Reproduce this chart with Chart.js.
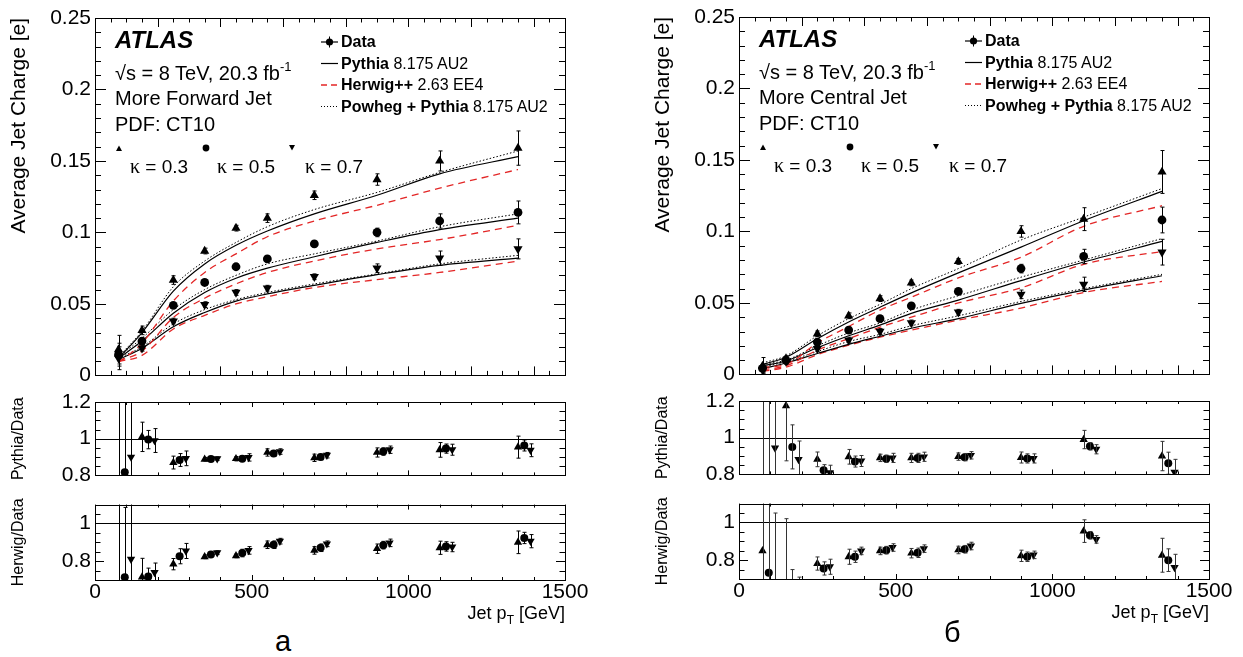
<!DOCTYPE html>
<html>
<head>
<meta charset="utf-8">
<title>Average Jet Charge</title>
<script src="https://cdn.jsdelivr.net/npm/chart.js@4.4.1/dist/chart.umd.min.js"></script>
<style>
  body { margin: 0; background: #fff; }
  #page { position: relative; width: 1243px; height: 657px; overflow: hidden;
          font-family: "Liberation Sans", Arial, sans-serif; color: #000; }
  #page canvas { position: absolute; }
  .txt { position: absolute; white-space: nowrap; line-height: 1; }
  .atlas { font-size: 24px; font-weight: bold; font-style: italic; }
  .big { font-size: 20px; }
  .kap { font-size: 19px; }
  .kap i { font-family: "Liberation Serif", serif; font-style: normal; font-size: 20px; }
  .leg { font-size: 16px; }
  .glyphs { position: absolute; pointer-events: none; }
  .axt { font-size: 18px; }
  .letter { font-size: 29px; }
</style>
</head>
<body>
<div id="page">
  <canvas id="mainL" width="590" height="392" style="left:0px;top:0px"></canvas>
  <canvas id="pyL" width="590" height="110" style="left:0px;top:382px"></canvas>
  <canvas id="hwL" width="590" height="132" style="left:0px;top:488px"></canvas>
  <canvas id="mainR" width="590" height="392" style="left:644px;top:-1px"></canvas>
  <canvas id="pyR" width="590" height="110" style="left:644px;top:381px"></canvas>
  <canvas id="hwR" width="590" height="132" style="left:644px;top:487px"></canvas>
</div>
<script>
// bin centres [GeV] and shifted positions used in the ratio panels
const binCenters = [75, 150, 250, 350, 450, 550, 700, 900, 1100, 1350];
const ratioX05 = [95, 170, 270, 370, 470, 570, 720, 920, 1120, 1370];
const ratioX07 = [115, 190, 290, 390, 490, 590, 740, 940, 1140, 1390];

// --- More Forward Jet (a) ---
const fwdData03 = [0.018, 0.0315, 0.0667, 0.087, 0.103, 0.110, 0.126, 0.137, 0.150, 0.159];
const fwdErr03  = [0.010, 0.003, 0.003, 0.002, 0.002, 0.003, 0.003, 0.004, 0.007, 0.012];
const fwdData05 = [0.0145, 0.024, 0.049, 0.065, 0.076, 0.0815, 0.092, 0.100, 0.108, 0.114];
const fwdErr05  = [0.008, 0.002, 0.002, 0.002, 0.002, 0.002, 0.002, 0.003, 0.005, 0.008];
const fwdData07 = [0.012, 0.019, 0.038, 0.0495, 0.058, 0.061, 0.069, 0.075, 0.082, 0.0885];
const fwdErr07  = [0.008, 0.002, 0.002, 0.002, 0.002, 0.002, 0.002, 0.003, 0.005, 0.007];

const fwdPythia03 = [0.012, 0.030, 0.059, 0.078, 0.091, 0.101, 0.113, 0.126, 0.141, 0.153];
const fwdHerwig03 = [0.009, 0.0225, 0.052, 0.072, 0.085, 0.097, 0.108, 0.119, 0.131, 0.144];
const fwdPowheg03 = [0.013, 0.031, 0.062, 0.080, 0.093, 0.104, 0.116, 0.128, 0.142, 0.157];
const fwdPythia05 = [0.012, 0.024, 0.0435, 0.058, 0.068, 0.075, 0.083, 0.093, 0.102, 0.110];
const fwdHerwig05 = [0.010, 0.017, 0.0405, 0.054, 0.064, 0.072, 0.080, 0.0885, 0.095, 0.105];
const fwdPowheg05 = [0.013, 0.026, 0.046, 0.060, 0.070, 0.078, 0.085, 0.094, 0.104, 0.113];
const fwdPythia07 = [0.011, 0.019, 0.034, 0.044, 0.052, 0.057, 0.063, 0.0705, 0.077, 0.082];
const fwdHerwig07 = [0.0097, 0.014, 0.0325, 0.042, 0.050, 0.055, 0.0615, 0.067, 0.072, 0.080];
const fwdPowheg07 = [0.012, 0.020, 0.036, 0.046, 0.053, 0.058, 0.064, 0.071, 0.078, 0.084];

const fwdPyRatio03 = [0.5, 1.01, 0.87, 0.888, 0.891, 0.925, 0.896, 0.925, 0.939, 0.954];
const fwdPyRErr03  = [0.8, 0.08, 0.035, 0.01, 0.012, 0.02, 0.02, 0.025, 0.04, 0.06];
const fwdPyRatio05 = [0.817, 0.995, 0.884, 0.889, 0.891, 0.919, 0.90, 0.93, 0.946, 0.963];
const fwdPyRErr05  = [0.5, 0.05, 0.035, 0.01, 0.015, 0.015, 0.015, 0.02, 0.025, 0.03];
const fwdPyRatio07 = [0.90, 0.99, 0.893, 0.891, 0.898, 0.93, 0.91, 0.94, 0.94, 0.937];
const fwdPyRErr07  = [0.5, 0.065, 0.04, 0.01, 0.02, 0.015, 0.015, 0.02, 0.03, 0.035];

const fwdHwRatio03 = [0.5, 0.715, 0.784, 0.823, 0.828, 0.887, 0.857, 0.866, 0.871, 0.90];
const fwdHwRErr03  = [0.8, 0.1, 0.03, 0.01, 0.01, 0.02, 0.02, 0.025, 0.035, 0.06];
const fwdHwRatio05 = [0.715, 0.718, 0.826, 0.835, 0.843, 0.887, 0.871, 0.885, 0.878, 0.923];
const fwdHwRErr05  = [0.37, 0.045, 0.04, 0.01, 0.02, 0.02, 0.02, 0.02, 0.025, 0.03];
const fwdHwRatio07 = [0.81, 0.74, 0.854, 0.845, 0.857, 0.906, 0.892, 0.897, 0.875, 0.906];
const fwdHwRErr07  = [0.5, 0.05, 0.04, 0.01, 0.02, 0.015, 0.015, 0.02, 0.025, 0.035];

// --- More Central Jet (б) ---
const cenData03 = [0.0058, 0.011, 0.0284, 0.041, 0.053, 0.064, 0.079, 0.100, 0.1086, 0.1416];
const cenErr03  = [0.006, 0.002, 0.002, 0.002, 0.002, 0.002, 0.002, 0.004, 0.008, 0.015];
const cenData05 = [0.0042, 0.0099, 0.0226, 0.031, 0.039, 0.048, 0.058, 0.074, 0.0825, 0.108];
const cenErr05  = [0.003, 0.002, 0.002, 0.002, 0.002, 0.002, 0.002, 0.003, 0.005, 0.009];
const cenData07 = [0.0035, 0.009, 0.018, 0.024, 0.030, 0.036, 0.0435, 0.056, 0.063, 0.0855];
const cenErr07  = [0.003, 0.002, 0.002, 0.002, 0.002, 0.002, 0.002, 0.003, 0.005, 0.009];

const cenPythia03 = [0.007, 0.012, 0.025, 0.0367, 0.047, 0.057, 0.071, 0.089, 0.1075, 0.128];
const cenHerwig03 = [0.005, 0.007, 0.022, 0.0335, 0.045, 0.054, 0.0675, 0.082, 0.1036, 0.118];
const cenPowheg03 = [0.008, 0.013, 0.027, 0.039, 0.049, 0.060, 0.074, 0.094, 0.110, 0.130];
const cenPythia05 = [0.006, 0.0094, 0.0186, 0.027, 0.0345, 0.0427, 0.052, 0.0656, 0.0786, 0.093];
const cenHerwig05 = [0.0031, 0.006, 0.017, 0.025, 0.033, 0.040, 0.050, 0.0605, 0.077, 0.086];
const cenPowheg05 = [0.007, 0.010, 0.020, 0.029, 0.036, 0.045, 0.055, 0.068, 0.080, 0.095];
const cenPythia07 = [0.004, 0.008, 0.0146, 0.021, 0.0267, 0.0323, 0.039, 0.0497, 0.059, 0.069];
const cenHerwig07 = [0.002, 0.005, 0.0138, 0.0204, 0.026, 0.031, 0.038, 0.0464, 0.0573, 0.065];
const cenPowheg07 = [0.005, 0.009, 0.016, 0.023, 0.028, 0.034, 0.041, 0.051, 0.060, 0.070];

const cenPyRatio03 = [0.5, 1.174, 0.882, 0.896, 0.89, 0.89, 0.897, 0.892, 0.99, 0.90];
const cenPyRErr03  = [0.8, 0.3, 0.04, 0.04, 0.02, 0.025, 0.02, 0.03, 0.05, 0.08];
const cenPyRatio05 = [0.5, 0.95, 0.823, 0.87, 0.885, 0.89, 0.894, 0.887, 0.953, 0.861];
const cenPyRErr05  = [0.8, 0.12, 0.03, 0.03, 0.02, 0.025, 0.02, 0.025, 0.02, 0.06];
const cenPyRatio07 = [0.944, 0.882, 0.81, 0.873, 0.89, 0.896, 0.904, 0.887, 0.937, 0.812];
const cenPyRErr07  = [0.5, 0.1, 0.04, 0.03, 0.025, 0.025, 0.02, 0.025, 0.025, 0.07];

const cenHwRatio03 = [0.849, 0.55, 0.782, 0.818, 0.849, 0.837, 0.854, 0.823, 0.954, 0.826];
const cenHwRErr03  = [0.5, 0.47, 0.035, 0.04, 0.02, 0.025, 0.02, 0.03, 0.06, 0.09];
const cenHwRatio05 = [0.733, 0.55, 0.756, 0.818, 0.853, 0.839, 0.858, 0.818, 0.932, 0.80];
const cenHwRErr05  = [0.5, 0.2, 0.035, 0.03, 0.02, 0.025, 0.02, 0.025, 0.02, 0.06];
const cenHwRatio07 = [0.60, 0.60, 0.765, 0.849, 0.867, 0.861, 0.875, 0.828, 0.91, 0.761];
const cenHwRErr07  = [0.45, 0.11, 0.04, 0.02, 0.02, 0.02, 0.02, 0.02, 0.02, 0.07];

Chart.defaults.font.family = '"Liberation Sans", Arial, sans-serif';
Chart.defaults.color = '#000';

const HERWIG_RED = '#e32626';
const markers = [
  { pointStyle: 'triangle', pointRadius: 5.3, pointRotation: 0 },
  { pointStyle: 'circle', pointRadius: 4.4, pointRotation: 0 },
  { pointStyle: 'triangle', pointRadius: 5.3, pointRotation: 180 }
];

function pts(xs, ys) {
  return xs.map((x, i) => ({ x: x, y: ys[i] }));
}

function isMajor(v, step) {
  return Math.abs(v / step - Math.round(v / step)) < 1e-6;
}

function tickValues(min, max, step) {
  const out = [];
  for (let k = Math.ceil(min / step - 1e-9); k <= Math.floor(max / step + 1e-9); k++) out.push(k * step);
  return out;
}

// ROOT-like frame: inner ticks on all four sides, error bars, unity line
const rootStyle = {
  id: 'rootStyle',
  afterDatasetsDraw(chart, args, opts) {
    const { ctx, chartArea: a } = chart;
    const xs = chart.scales.x, ys = chart.scales.y;
    ctx.save();
    ctx.beginPath();
    ctx.rect(a.left, a.top, a.right - a.left, a.bottom - a.top);
    ctx.clip();
    if (opts.unity) {
      const py = Math.round(ys.getPixelForValue(1)) + 0.5;
      ctx.strokeStyle = '#000';
      ctx.lineWidth = 1;
      ctx.beginPath();
      ctx.moveTo(a.left, py);
      ctx.lineTo(a.right, py);
      ctx.stroke();
    }
    chart.data.datasets.forEach(ds => {
      if (!ds.errorBars) return;
      ctx.strokeStyle = ds.errorColor || '#000';
      ctx.lineWidth = 1;
      ds.data.forEach((p, j) => {
        const e = ds.errorBars[j];
        const px = Math.round(xs.getPixelForValue(p.x)) + 0.5;
        const yHi = ys.getPixelForValue(p.y + e);
        const yLo = ys.getPixelForValue(p.y - e);
        ctx.beginPath();
        ctx.moveTo(px, yHi); ctx.lineTo(px, yLo);
        ctx.moveTo(px - 2, yHi); ctx.lineTo(px + 2, yHi);
        ctx.moveTo(px - 2, yLo); ctx.lineTo(px + 2, yLo);
        ctx.stroke();
      });
    });
    ctx.restore();
  },
  afterDraw(chart, args, opts) {
    const { ctx, chartArea: a } = chart;
    const xs = chart.scales.x, ys = chart.scales.y;
    ctx.save();
    ctx.strokeStyle = '#000';
    ctx.lineWidth = 1;
    ctx.beginPath();
    tickValues(xs.min, xs.max, opts.xMinor).forEach(v => {
      const len = isMajor(v, opts.xMajor) ? opts.xMajorLen : opts.xMinorLen;
      const px = Math.round(xs.getPixelForValue(v)) + 0.5;
      ctx.moveTo(px, a.bottom); ctx.lineTo(px, a.bottom - len);
      ctx.moveTo(px, a.top); ctx.lineTo(px, a.top + len);
    });
    tickValues(ys.min, ys.max, opts.yMinor).forEach(v => {
      const len = isMajor(v, opts.yMajor) ? opts.yMajorLen : opts.yMinorLen;
      const py = Math.round(ys.getPixelForValue(v)) + 0.5;
      ctx.moveTo(a.left, py); ctx.lineTo(a.left + len, py);
      ctx.moveTo(a.right, py); ctx.lineTo(a.right - len, py);
    });
    ctx.stroke();
    ctx.strokeRect(Math.round(a.left) + 0.5, Math.round(a.top) + 0.5,
                   Math.round(a.right - a.left), Math.round(a.bottom - a.top));
    ctx.restore();
  }
};

function yTitle(text, size, align, pad) {
  return { display: true, text: text, align: align, font: { size: size }, color: '#000',
           padding: { top: pad, bottom: 0 } };
}

function buildMain(id, data, errs, pythia, herwig, powheg) {
  const datasets = [];
  for (let k = 0; k < 3; k++) {
    datasets.push(Object.assign({
      data: pts(binCenters, data[k]), showLine: false, errorBars: errs[k],
      backgroundColor: '#000', borderColor: '#000', pointBorderWidth: 0
    }, markers[k]));
  }
  for (let k = 0; k < 3; k++) {
    datasets.push({ data: pts(binCenters, pythia[k]), borderColor: '#000', borderWidth: 1.2,
                    pointRadius: 0, cubicInterpolationMode: 'monotone', fill: false });
    datasets.push({ data: pts(binCenters, powheg[k]), borderColor: '#000', borderWidth: 1,
                    borderDash: [1.5, 2], pointRadius: 0, cubicInterpolationMode: 'monotone', fill: false });
    datasets.push({ data: pts(binCenters, herwig[k]), borderColor: HERWIG_RED, borderWidth: 1.3,
                    borderDash: [7, 5], pointRadius: 0, cubicInterpolationMode: 'monotone', fill: false });
  }
  return new Chart(document.getElementById(id), {
    type: 'line',
    data: { datasets: datasets },
    options: {
      responsive: false, animation: false, devicePixelRatio: 1, events: [],
      layout: { padding: { left: 0, top: 18, right: 25, bottom: 13 } },
      plugins: {
        legend: { display: false }, tooltip: { enabled: false },
        rootStyle: { xMinor: 50, xMajor: 200, xMinorLen: 4.5, xMajorLen: 9,
                     yMinor: 0.01, yMajor: 0.05, yMinorLen: 6, yMajorLen: 11 }
      },
      scales: {
        x: { type: 'linear', min: 0, max: 1500, display: false },
        y: {
          min: 0, max: 0.25,
          grid: { display: false, drawTicks: false }, border: { display: false },
          ticks: { stepSize: 0.05, padding: 4, font: { size: 21 }, callback: v => String(+v.toFixed(2)) },
          title: yTitle('Average Jet Charge [e]', 21, 'end', 7),
          afterFit: s => { s.width = 95; }
        }
      }
    },
    plugins: [rootStyle]
  });
}

function buildRatio(id, title, yMin, yMax, labels, ratios, errs, withXAxis, errColor) {
  const xsets = [binCenters, ratioX05, ratioX07];
  const datasets = [];
  for (let k = 0; k < 3; k++) {
    datasets.push(Object.assign({
      data: pts(xsets[k], ratios[k]), showLine: false, errorBars: errs[k], errorColor: errColor,
      backgroundColor: '#000', borderColor: '#000', pointBorderWidth: 0
    }, markers[k], { pointRadius: k === 1 ? 4 : 4.8 }));
  }
  const xScale = withXAxis ? {
    type: 'linear', min: 0, max: 1500,
    grid: { display: false, drawTicks: false }, border: { display: false },
    ticks: { stepSize: 500, padding: 0, maxRotation: 0, font: { size: 21 }, callback: v => String(v) },
    afterFit: s => { s.height = 25; }
  } : { type: 'linear', min: 0, max: 1500, display: false };
  return new Chart(document.getElementById(id), {
    type: 'line',
    data: { datasets: datasets },
    options: {
      responsive: false, animation: false, devicePixelRatio: 1, events: [],
      layout: { padding: withXAxis ? { left: 0, top: 15, right: 25, bottom: 15 }
                                   : { left: 0, top: 20, right: 25, bottom: 14 } },
      plugins: {
        legend: { display: false }, tooltip: { enabled: false },
        rootStyle: { unity: true, xMinor: 100, xMajor: 500, xMinorLen: 3, xMajorLen: 5,
                     yMinor: 0.05, yMajor: 0.2, yMinorLen: 5.5, yMajorLen: 9 }
      },
      scales: {
        x: xScale,
        y: {
          min: yMin, max: yMax,
          grid: { display: false, drawTicks: false }, border: { display: false },
          afterBuildTicks: s => { s.ticks = labels.map(v => ({ value: v })); },
          ticks: { padding: 4, font: { size: 21 }, callback: v => String(+v.toFixed(1)) },
          title: yTitle(title, 16, 'center', 9),
          afterFit: s => { s.width = 95; }
        }
      }
    },
    plugins: [rootStyle]
  });
}

function addPanelText(dx, dy, jetLabel) {
  const L = (x) => (x + dx) + 'px';
  const T = (y) => (y + dy) + 'px';
  const html = `
    <div class="txt atlas" style="left:${L(115)};top:${T(28)}">ATLAS</div>
    <div class="txt big" style="left:${L(115)};top:${T(60)}">√s = 8 TeV, 20.3 fb<span style="font-size:13px;vertical-align:9px">-1</span></div>
    <div class="txt big" style="left:${L(115)};top:${T(88)}">${jetLabel}</div>
    <div class="txt big" style="left:${L(115)};top:${T(114)}">PDF: CT10</div>
    <div class="txt kap" style="left:${L(130)};top:${T(155.5)}"><i>κ</i> = 0.3</div>
    <div class="txt kap" style="left:${L(217)};top:${T(155.5)}"><i>κ</i> = 0.5</div>
    <div class="txt kap" style="left:${L(305)};top:${T(155.5)}"><i>κ</i> = 0.7</div>
    <div class="txt leg" style="left:${L(341)};top:${T(34)}"><b>Data</b></div>
    <div class="txt leg" style="left:${L(341)};top:${T(55.5)}"><b>Pythia</b> 8.175 AU2</div>
    <div class="txt leg" style="left:${L(341)};top:${T(77)}"><b>Herwig++</b> 2.63 EE4</div>
    <div class="txt leg" style="left:${L(341)};top:${T(98.7)}"><b>Powheg + Pythia</b> 8.175 AU2</div>
    <svg class="glyphs" style="left:${L(0)};top:${T(0)}" width="600" height="200">
      <line x1="321" y1="42" x2="338" y2="42" stroke="#000" stroke-width="1.2"/>
      <line x1="329.5" y1="36.5" x2="329.5" y2="47.5" stroke="#000" stroke-width="1"/>
      <circle cx="329.5" cy="42" r="3.6" fill="#000"/>
      <line x1="321" y1="63.5" x2="338" y2="63.5" stroke="#000" stroke-width="1.2"/>
      <line x1="321" y1="85" x2="338" y2="85" stroke="${HERWIG_RED}" stroke-width="1.3" stroke-dasharray="6 4"/>
      <line x1="321" y1="106.5" x2="338" y2="106.5" stroke="#000" stroke-width="1" stroke-dasharray="1 2"/>
      <path d="M119 145.5 L122 151 L116 151 Z" fill="#000"/>
      <circle cx="206" cy="148" r="3.4" fill="#000"/>
      <path d="M292 150.5 L295 145 L289 145 Z" fill="#000"/>
    </svg>
    <div class="txt axt" style="left:${L(465)};width:100px;text-align:right;top:${T(604)}">Jet p<span style="font-size:12px;vertical-align:-5px">T</span> [GeV]</div>`;
  document.getElementById('page').insertAdjacentHTML('beforeend', html);
}

buildMain('mainL', [fwdData03, fwdData05, fwdData07], [fwdErr03, fwdErr05, fwdErr07],
  [fwdPythia03, fwdPythia05, fwdPythia07], [fwdHerwig03, fwdHerwig05, fwdHerwig07],
  [fwdPowheg03, fwdPowheg05, fwdPowheg07]);
buildRatio('pyL', 'Pythia/Data', 0.8, 1.2, [0.8, 1, 1.2],
  [fwdPyRatio03, fwdPyRatio05, fwdPyRatio07], [fwdPyRErr03, fwdPyRErr05, fwdPyRErr07], false, '#000');
buildRatio('hwL', 'Herwig/Data', 0.7, 1.1, [0.8, 1],
  [fwdHwRatio03, fwdHwRatio05, fwdHwRatio07], [fwdHwRErr03, fwdHwRErr05, fwdHwRErr07], true, '#000');

buildMain('mainR', [cenData03, cenData05, cenData07], [cenErr03, cenErr05, cenErr07],
  [cenPythia03, cenPythia05, cenPythia07], [cenHerwig03, cenHerwig05, cenHerwig07],
  [cenPowheg03, cenPowheg05, cenPowheg07]);
buildRatio('pyR', 'Pythia/Data', 0.8, 1.2, [0.8, 1, 1.2],
  [cenPyRatio03, cenPyRatio05, cenPyRatio07], [cenPyRErr03, cenPyRErr05, cenPyRErr07], false, '#333');
buildRatio('hwR', 'Herwig/Data', 0.7, 1.1, [0.8, 1],
  [cenHwRatio03, cenHwRatio05, cenHwRatio07], [cenHwRErr03, cenHwRErr05, cenHwRErr07], true, '#333');

addPanelText(0, 0, 'More Forward Jet');
addPanelText(644, -1, 'More Central Jet');

document.getElementById('page').insertAdjacentHTML('beforeend',
  '<div class="txt letter" style="left:275px;top:627px">а</div>' +
  '<div class="txt letter" style="left:944px;top:618px">б</div>');
</script>
</body>
</html>
